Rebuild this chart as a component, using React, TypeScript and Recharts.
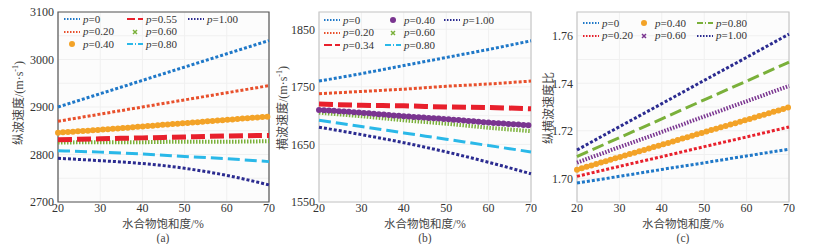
import React from "react";
import { LineChart, Line, XAxis, YAxis, CartesianGrid, ReferenceArea } from "recharts";

const saturation = [20, 30, 40, 50, 60, 70];
const satTicks = [20, 30, 40, 50, 60, 70];

// (a) 纵波速度 m/s
const vpP000 = [2900, 2928, 2956, 2984, 3012, 3040];
const vpP020 = [2870, 2885, 2900, 2915, 2930, 2945];
const vpP040 = [2846, 2852, 2859, 2866, 2873, 2880];
const vpP055 = [2831, 2833, 2835, 2837, 2839, 2840];
const vpP060 = [2825, 2826, 2826, 2827, 2827, 2828];
const vpP080 = [2808, 2805, 2801, 2796, 2791, 2785];
const vpP100 = [2792, 2787, 2781, 2771, 2756, 2736];
const vpTicks = [2700, 2750, 2800, 2850, 2900, 2950, 3000, 3050, 3100];

// (b) 横波速度 m/s
const vsP000 = [1760, 1773, 1787, 1801, 1815, 1830];
const vsP020 = [1738, 1742, 1746, 1751, 1755, 1760];
const vsP034 = [1720, 1718, 1717, 1715, 1714, 1712];
const vsP040 = [1710, 1705, 1699, 1694, 1688, 1683];
const vsP060 = [1705, 1699, 1692, 1686, 1679, 1673];
const vsP080 = [1692, 1681, 1670, 1659, 1648, 1637];
const vsP100 = [1680, 1667, 1653, 1637, 1619, 1599];
const vsTicks = [1550, 1600, 1650, 1700, 1750, 1800, 1850];

// (c) 纵横波速度比
const rP000 = [1.698, 1.7008, 1.7037, 1.7065, 1.7094, 1.7122];
const rP020 = [1.7008, 1.705, 1.7091, 1.7133, 1.7174, 1.7216];
const rP040 = [1.7036, 1.7089, 1.7141, 1.7194, 1.7246, 1.7299];
const rP060 = [1.7066, 1.7131, 1.7195, 1.726, 1.7324, 1.7389];
const rP080 = [1.7091, 1.7171, 1.725, 1.733, 1.7409, 1.7489];
const rP100 = [1.7119, 1.7217, 1.7314, 1.7412, 1.7509, 1.7607];
const rTicks = [1.7, 1.71, 1.72, 1.73, 1.74, 1.75, 1.76];

const BLUE = "#1f78c8";
const ORANGE_RED = "#e8502c";
const GOLD = "#f3a328";
const RED = "#e8202c";
const GREEN = "#7ab03a";
const CYAN = "#2ab8e8";
const NAVY = "#2b2b90";
const PURPLE = "#7a3590";

const serif = "Liberation Serif, Times New Roman, serif";
const cjk = "Noto Sans CJK SC, sans-serif";

type Kind = "dot" | "circle" | "cross" | "dash" | "dashdot";

const styleFor = (kind: Kind) => {
  switch (kind) {
    case "dot":
      return { strokeWidth: 3, strokeDasharray: "3 2" };
    case "circle":
      return { strokeWidth: 6, strokeDasharray: "0 5", strokeLinecap: "round" as const };
    case "cross":
      return { strokeWidth: 4, strokeDasharray: "1.5 1.5" };
    case "dash":
      return { strokeWidth: 5, strokeDasharray: "14 5" };
    case "dashdot":
      return { strokeWidth: 3, strokeDasharray: "12 5" };
  }
};

const rows = (cols: Record<string, number[]>) =>
  saturation.map((s, i) => {
    const r: Record<string, number> = { s };
    Object.keys(cols).forEach((k) => (r[k] = cols[k][i]));
    return r;
  });

const dataA = rows({ p0: vpP000, p20: vpP020, p40: vpP040, p55: vpP055, p60: vpP060, p80: vpP080, p100: vpP100 });
const dataB = rows({ p0: vsP000, p20: vsP020, p34: vsP034, p40: vsP040, p60: vsP060, p80: vsP080, p100: vsP100 });
const dataC = rows({ p0: rP000, p20: rP020, p40: rP040, p60: rP060, p80: rP080, p100: rP100 });

type S = { key: string; label: string; color: string; kind: Kind };

const seriesA: S[] = [
  { key: "p0", label: "0", color: BLUE, kind: "dot" },
  { key: "p20", label: "0.20", color: ORANGE_RED, kind: "dot" },
  { key: "p40", label: "0.40", color: GOLD, kind: "circle" },
  { key: "p60", label: "0.60", color: GREEN, kind: "cross" },
  { key: "p55", label: "0.55", color: RED, kind: "dash" },
  { key: "p80", label: "0.80", color: CYAN, kind: "dashdot" },
  { key: "p100", label: "1.00", color: NAVY, kind: "dot" },
];
const seriesB: S[] = [
  { key: "p0", label: "0", color: BLUE, kind: "dot" },
  { key: "p20", label: "0.20", color: ORANGE_RED, kind: "dot" },
  { key: "p34", label: "0.34", color: RED, kind: "dash" },
  { key: "p60", label: "0.60", color: GREEN, kind: "cross" },
  { key: "p40", label: "0.40", color: PURPLE, kind: "circle" },
  { key: "p80", label: "0.80", color: CYAN, kind: "dashdot" },
  { key: "p100", label: "1.00", color: NAVY, kind: "dot" },
];
const seriesC: S[] = [
  { key: "p0", label: "0", color: BLUE, kind: "dot" },
  { key: "p20", label: "0.20", color: RED, kind: "dot" },
  { key: "p40", label: "0.40", color: GOLD, kind: "circle" },
  { key: "p60", label: "0.60", color: PURPLE, kind: "cross" },
  { key: "p80", label: "0.80", color: GREEN, kind: "dashdot" },
  { key: "p100", label: "1.00", color: NAVY, kind: "dot" },
];

const Sample = ({ s }: { s: S }) => {
  if (s.kind === "circle")
    return (
      <svg width={16} height={8}>
        <circle cx={8} cy={4} r={3} fill={s.color} />
      </svg>
    );
  if (s.kind === "cross")
    return (
      <svg width={16} height={8}>
        <path d="M6 2 L10 6 M10 2 L6 6" stroke={s.color} strokeWidth={1.5} />
      </svg>
    );
  const st = styleFor(s.kind);
  return (
    <svg width={16} height={8}>
      <line x1={0} y1={4} x2={16} y2={4} stroke={s.color} strokeWidth={Math.min(st.strokeWidth, 2)} strokeDasharray={s.kind === "dot" ? "1.5 1.5" : s.kind === "dash" ? "8 3" : "6 2 1 2"} />
    </svg>
  );
};

const LegendBox = ({ items }: { items: { s: S; x: number; y: number }[] }) => (
  <>
    {items.map(({ s, x, y }) => (
      <div
        key={s.key}
        style={{ position: "absolute", left: x, top: y - 5.5, height: 11, lineHeight: "11px", display: "flex", alignItems: "center", fontFamily: serif, fontSize: 11, color: "#333", whiteSpace: "nowrap" }}
      >
        <Sample s={s} />
        <span style={{ marginLeft: 3 }}>
          <i>p</i>=<span>{s.label}</span>
        </span>
      </div>
    ))}
  </>
);

const tickStyle = { fontSize: 12, fontFamily: serif, fill: "#333" };

const Panel = ({
  left, width, yWidth, right, data, series, domain, ticks, fmt, border,
}: {
  left: number; width: number; yWidth: number; right: number; data: Record<string, number>[];
  series: S[]; domain: [number, number]; ticks: number[]; fmt: (v: number) => string; border: string;
}) => (
  <div style={{ position: "absolute", left, top: 0 }}>
    <LineChart width={width} height={244} data={data} margin={{ top: 12, right, left: 0, bottom: 0 }}>
      <CartesianGrid stroke="#f0f0f0" fill="#fcfcfc" />
      <XAxis dataKey="s" type="number" domain={[20, 70]} ticks={satTicks} height={42} tickLine={false} axisLine={false} tickSize={1} tickMargin={0} tick={tickStyle} />
      <YAxis type="number" domain={domain} ticks={ticks} allowDataOverflow width={yWidth} tickLine={false} axisLine={false} tickSize={2} tickMargin={2} tick={tickStyle} tickFormatter={fmt} />
      {series.map((s) => (
        <Line key={s.key} type="monotone" dataKey={s.key} stroke={s.color} dot={false} isAnimationActive={false} {...styleFor(s.kind)} />
      ))}
      <ReferenceArea x1={20} x2={70} y1={domain[0]} y2={domain[1]} fill="none" stroke={border} strokeWidth={1.2} />
    </LineChart>
  </div>
);

const YLabel = ({ x, y, main, unit }: { x: number; y: number; main: string; unit?: boolean }) => (
  <div style={{ position: "absolute", left: x, top: y, lineHeight: "14px", transform: "translate(-50%, -50%) rotate(-90deg)", whiteSpace: "nowrap", color: "#444", fontSize: 12 }}>
    <span style={{ fontFamily: cjk }}>{main}</span>
    {unit && (
      <span style={{ fontFamily: serif }}>
        /(m·s<sup style={{ fontSize: 8, lineHeight: 0 }}>-1</sup>)
      </span>
    )}
  </div>
);

const XLabel = ({ x, tag }: { x: number; tag: string }) => (
  <>
    <div style={{ position: "absolute", left: x, top: 223, height: 12, lineHeight: "12px", transform: "translate(-50%, -50%)", whiteSpace: "nowrap", color: "#444", fontSize: 11.5 }}>
      <span style={{ fontFamily: cjk }}>水合物饱和度</span>
      <span style={{ fontFamily: serif }}>/%</span>
    </div>
    <div style={{ position: "absolute", left: x, top: 237.5, height: 11, lineHeight: "11px", transform: "translate(-50%, -50%)", color: "#444", fontSize: 11.5, fontFamily: serif }}>{tag}</div>
  </>
);

const byKey = (list: S[], k: string) => list.find((s) => s.key === k)!;

export default function App() {
  return (
    <div style={{ position: "absolute", left: 0, top: 0, width: 818, height: 244, background: "#fff", overflow: "hidden" }}>
      <Panel left={0} width={280} yWidth={58} right={11} data={dataA} series={seriesA} domain={[2700, 3100]} ticks={vpTicks} fmt={(v) => (v % 100 === 0 ? String(v) : "")} border="#555" />
      <Panel left={270} width={270} yWidth={49} right={9} data={dataB} series={seriesB} domain={[1550, 1880]} ticks={vsTicks} fmt={(v) => (v % 100 === 50 ? String(v) : "")} border="#c8c8c8" />
      <Panel left={540} width={278} yWidth={37} right={29} data={dataC} series={seriesC} domain={[1.69, 1.77]} ticks={rTicks} fmt={(v) => (Math.round(v * 100) % 2 === 0 ? v.toFixed(2) : "")} border="#c8c8c8" />

      <LegendBox
        items={[
          { s: byKey(seriesA, "p0"), x: 64, y: 19 },
          { s: byKey(seriesA, "p20"), x: 64, y: 31.5 },
          { s: byKey(seriesA, "p40"), x: 64, y: 44 },
          { s: byKey(seriesA, "p55"), x: 127, y: 19 },
          { s: byKey(seriesA, "p60"), x: 127, y: 31.5 },
          { s: byKey(seriesA, "p80"), x: 127, y: 44 },
          { s: byKey(seriesA, "p100"), x: 188, y: 19 },
        ]}
      />
      <LegendBox
        items={[
          { s: byKey(seriesB, "p0"), x: 324, y: 20 },
          { s: byKey(seriesB, "p20"), x: 324, y: 32.5 },
          { s: byKey(seriesB, "p34"), x: 324, y: 45 },
          { s: byKey(seriesB, "p40"), x: 385, y: 20 },
          { s: byKey(seriesB, "p60"), x: 385, y: 32.5 },
          { s: byKey(seriesB, "p80"), x: 385, y: 45 },
          { s: byKey(seriesB, "p100"), x: 444, y: 20 },
        ]}
      />
      <LegendBox
        items={[
          { s: byKey(seriesC, "p0"), x: 583, y: 23 },
          { s: byKey(seriesC, "p20"), x: 583, y: 35.5 },
          { s: byKey(seriesC, "p40"), x: 636, y: 23 },
          { s: byKey(seriesC, "p60"), x: 636, y: 35.5 },
          { s: byKey(seriesC, "p80"), x: 697, y: 23 },
          { s: byKey(seriesC, "p100"), x: 697, y: 35.5 },
        ]}
      />

      <YLabel x={18} y={103} main="纵波速度" unit />
      <YLabel x={282} y={108} main="横波速度" unit />
      <YLabel x={548} y={108} main="纵横波速度比" />
      <XLabel x={163} tag="(a)" />
      <XLabel x={425} tag="(b)" />
      <XLabel x={683} tag="(c)" />
    </div>
  );
}
